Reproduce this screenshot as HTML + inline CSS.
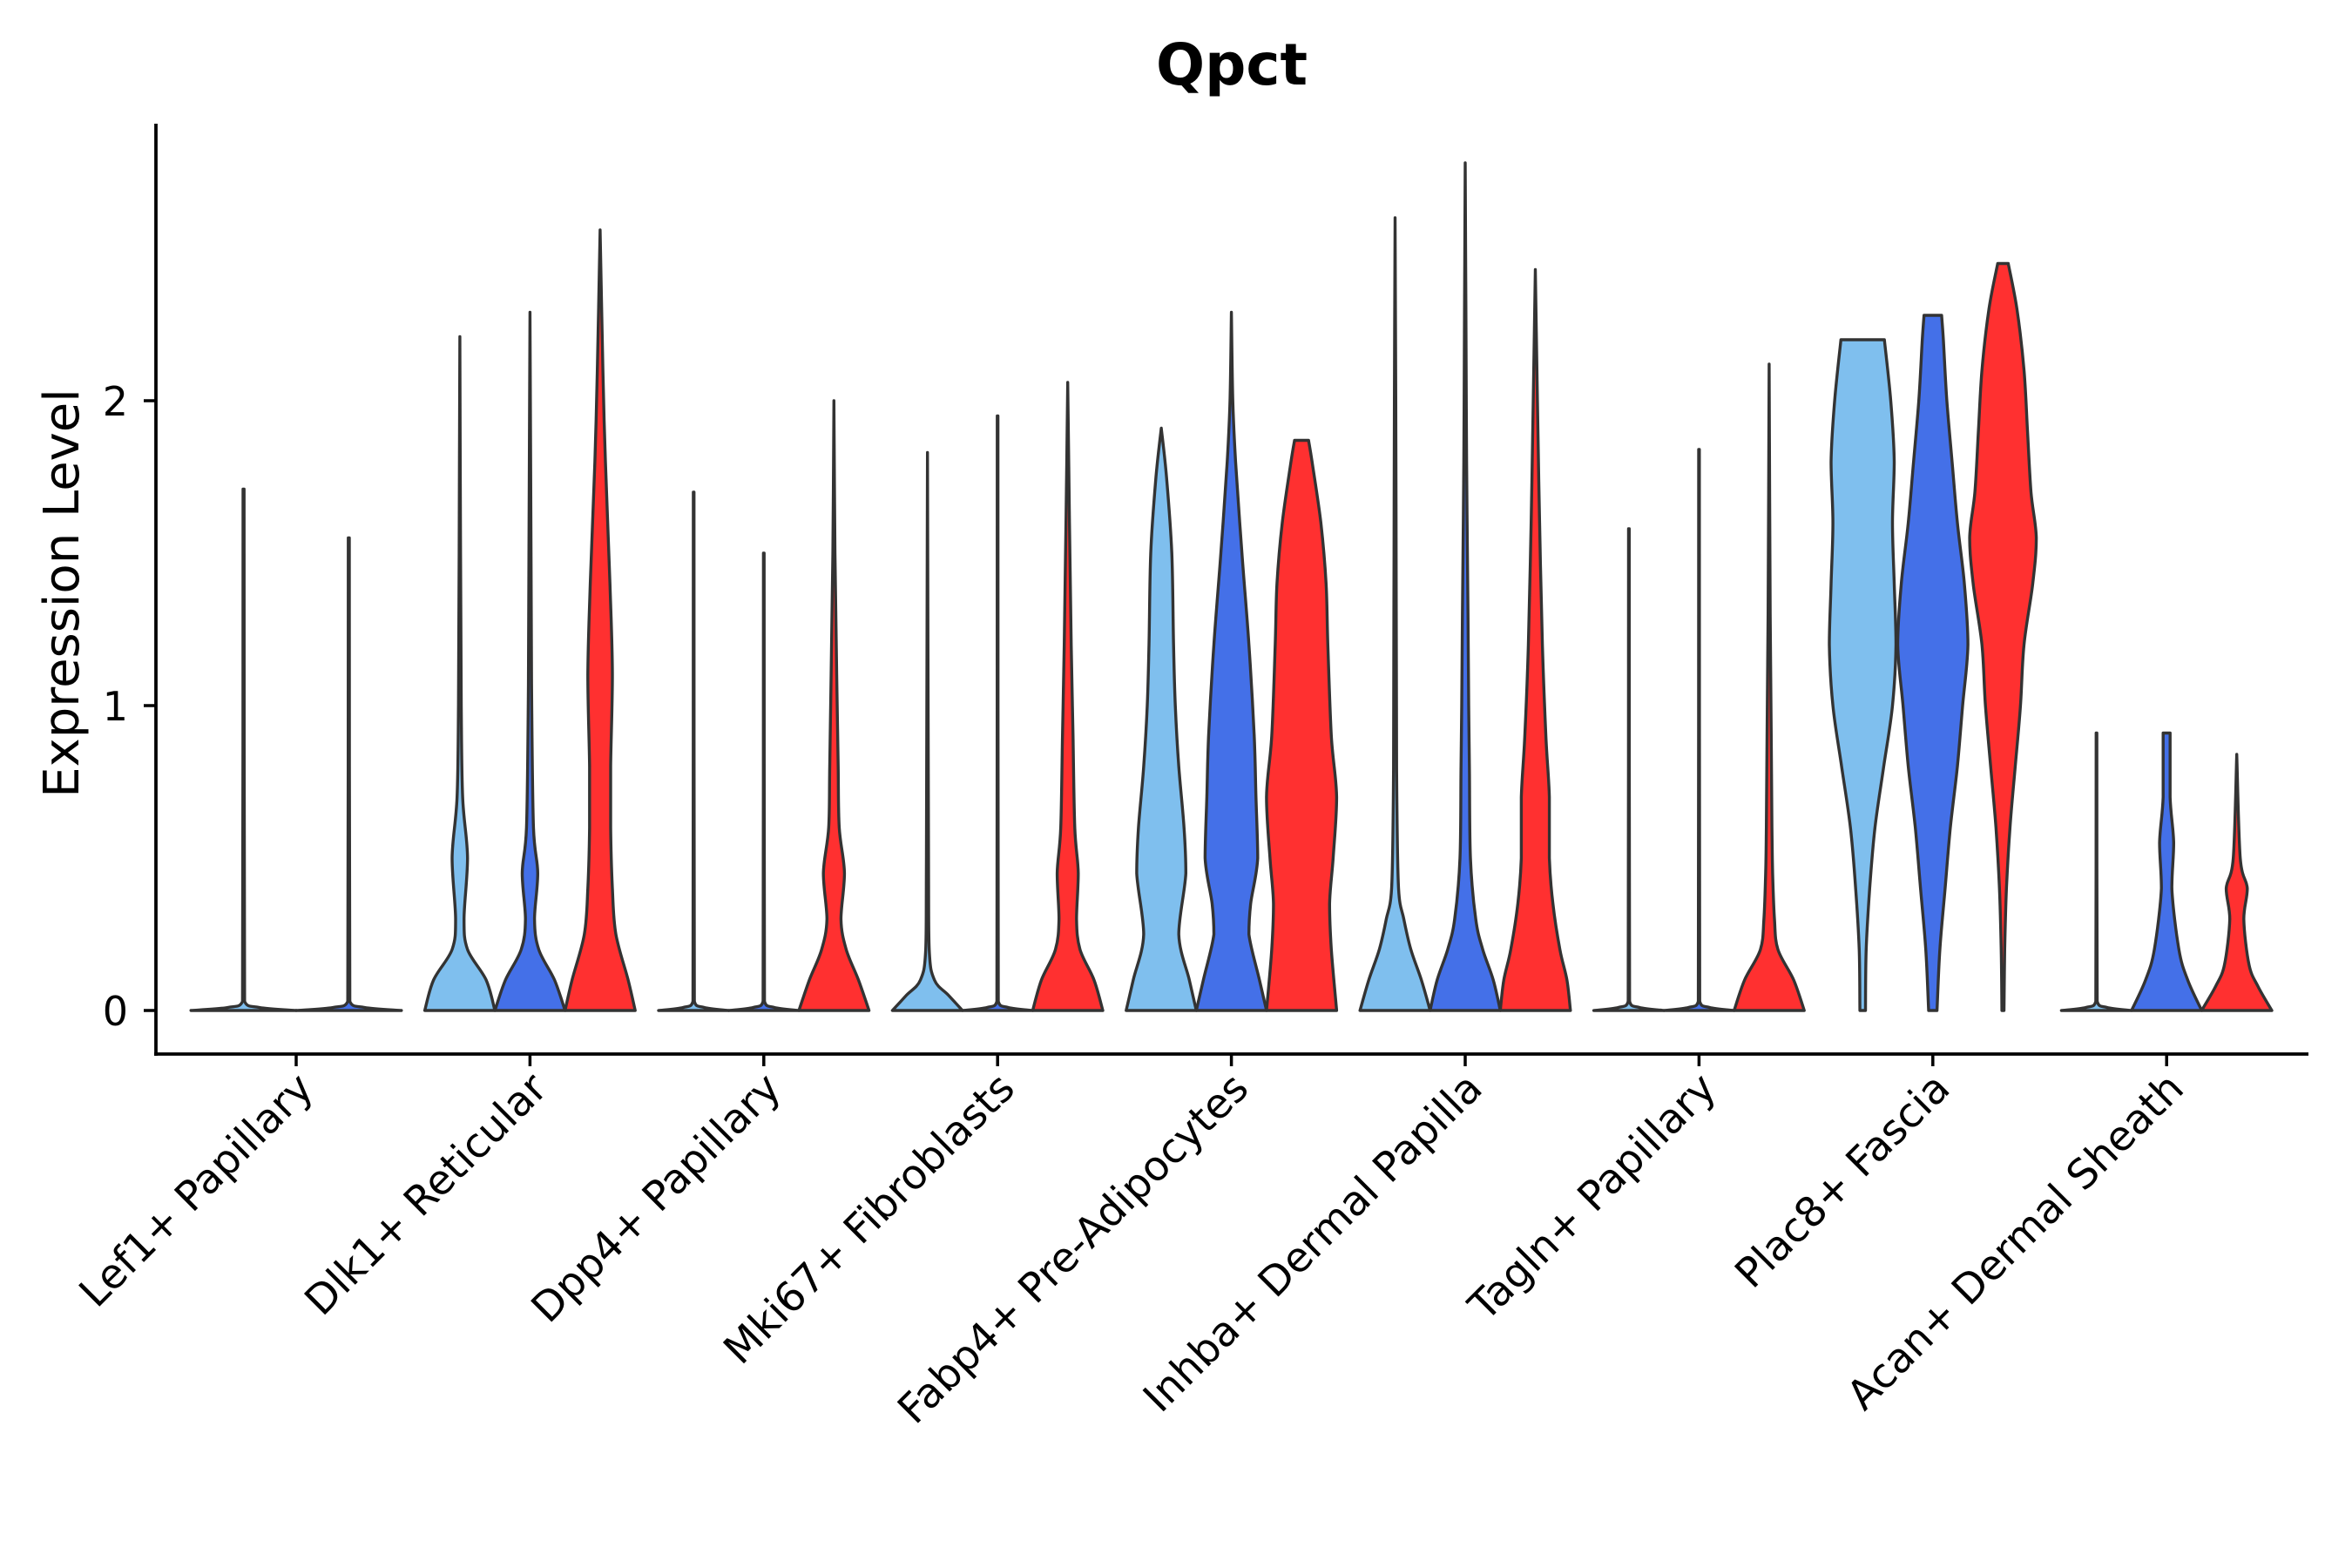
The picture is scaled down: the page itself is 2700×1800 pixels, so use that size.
<!DOCTYPE html>
<html><head><meta charset="utf-8"><style>
html,body{margin:0;padding:0;background:#fff;}
svg{display:block;font-family:"DejaVu Sans","Liberation Sans",sans-serif;}
</style></head><body>
<svg id="chart" width="2700" height="1800" viewBox="0 0 2700 1800" xmlns="http://www.w3.org/2000/svg">
<rect width="2700" height="1800" fill="#fff"/>
<text x="1414" y="97" text-anchor="middle" font-size="66" font-weight="bold" fill="#000">Qpct</text>
<text transform="translate(90,681) rotate(-90)" text-anchor="middle" font-size="56" fill="#000">Expression Level</text>
<g id="violins"></g>
<g id="axes"></g>
</svg>
<script>
const categories = ["Lef1+ Papillary","Dlk1+ Reticular","Dpp4+ Papillary","Mki67+ Fibroblasts","Fabp4+ Pre-Adipocytes","Inhba+ Dermal Papilla","Tagln+ Papillary","Plac8+ Fascia","Acan+ Dermal Sheath"];
const yTicks = [0,1,2];
const seriesColors = ["#7fbfee","#4470e8","#ff3030"];
const flat = m => [[0,1],[0.01,0.3],[0.03,0.02],[m,0.01]];
const lef1 = [[0, flat(1.71)],[1, flat(1.55)]];
const dlk1 = [
 [0, [[0,1],[0.1,0.75],[0.2,0.22],[0.3,0.12],[0.5,0.22],[0.7,0.08],[1.0,0.04],[1.5,0.02],[2.21,0]]],
 [1, [[0,1],[0.1,0.7],[0.2,0.25],[0.3,0.13],[0.45,0.22],[0.6,0.1],[1.0,0.05],[1.5,0.03],[2.29,0]]],
 [2, [[0,1],[0.1,0.8],[0.25,0.45],[0.4,0.35],[0.6,0.3],[0.8,0.3],[1.1,0.35],[1.4,0.28],[1.8,0.15],[2.1,0.08],[2.56,0]]]];
const dpp4 = [[0, flat(1.70)],[1, flat(1.50)],
 [2, [[0,1],[0.1,0.7],[0.2,0.35],[0.3,0.2],[0.45,0.3],[0.6,0.15],[0.8,0.12],[1.1,0.08],[1.5,0.03],[2.0,0]]]];
const mki67 = [
 [0, [[0,1],[0.05,0.6],[0.1,0.2],[0.2,0.05],[0.5,0.03],[1.83,0]]],
 [1, flat(1.95)],
 [2, [[0,1],[0.1,0.75],[0.2,0.35],[0.3,0.25],[0.45,0.3],[0.6,0.2],[0.9,0.15],[1.2,0.1],[1.6,0.05],[2.06,0]]]];
const fabp4 = [
 [0, [[0,1],[0.1,0.8],[0.25,0.5],[0.45,0.7],[0.6,0.65],[0.8,0.5],[1.0,0.4],[1.2,0.35],[1.5,0.3],[1.75,0.15],[1.91,0]]],
 [1, [[0,1],[0.1,0.8],[0.25,0.5],[0.35,0.55],[0.5,0.75],[0.7,0.7],[0.9,0.65],[1.2,0.5],[1.5,0.3],[1.8,0.12],[2.0,0.04],[2.29,0]]],
 [2, [[0,1],[0.2,0.85],[0.35,0.8],[0.5,0.9],[0.7,1.0],[0.9,0.85],[1.2,0.75],[1.4,0.7],[1.6,0.55],[1.8,0.3],[1.87,0.2]]]];
const inhba = [
 [0, [[0,1],[0.1,0.75],[0.2,0.45],[0.3,0.25],[0.4,0.1],[0.7,0.05],[1.0,0.04],[1.5,0.03],[2.0,0.02],[2.6,0]]],
 [1, [[0,1],[0.1,0.8],[0.2,0.5],[0.3,0.3],[0.5,0.15],[0.8,0.12],[1.0,0.1],[1.3,0.08],[1.8,0.04],[2.3,0.02],[2.78,0]]],
 [2, [[0,1],[0.1,0.9],[0.2,0.7],[0.35,0.5],[0.5,0.4],[0.7,0.4],[0.9,0.3],[1.2,0.2],[1.6,0.12],[2.0,0.06],[2.43,0]]]];
const tagln = [[0, flat(1.58)],[1, flat(1.84)],
 [2, [[0,1],[0.1,0.7],[0.2,0.25],[0.3,0.15],[0.45,0.1],[0.6,0.08],[0.9,0.06],[1.3,0.03],[2.12,0]]]];
const plac8 = [
 [0, [[0,0.08],[0.2,0.1],[0.4,0.2],[0.6,0.35],[0.8,0.6],[1.0,0.85],[1.2,0.95],[1.4,0.9],[1.6,0.85],[1.8,0.9],[2.0,0.8],[2.2,0.62]]],
 [1, [[0,0.12],[0.2,0.2],[0.4,0.35],[0.6,0.5],[0.8,0.7],[1.0,0.85],[1.2,1.0],[1.4,0.9],[1.6,0.7],[1.8,0.55],[2.0,0.4],[2.2,0.3],[2.28,0.25]]],
 [2, [[0,0.03],[0.2,0.05],[0.4,0.1],[0.6,0.2],[0.8,0.35],[1.0,0.5],[1.2,0.6],[1.4,0.85],[1.55,0.95],[1.7,0.8],[1.9,0.7],[2.1,0.6],[2.3,0.4],[2.45,0.15]]]];
const acan = [[0, flat(0.91)],
 [1, [[0,1],[0.1,0.6],[0.2,0.35],[0.4,0.15],[0.55,0.2],[0.7,0.1],[0.91,0.1]]],
 [2, [[0,1],[0.08,0.6],[0.15,0.35],[0.3,0.2],[0.4,0.3],[0.5,0.1],[0.84,0]]]];
const violinData = [lef1,dlk1,dpp4,mki67,fabp4,inhba,tagln,plac8,acan];

const NS="http://www.w3.org/2000/svg";
const X0=179, X1=2650, Y0=1160, UNIT=350, AXY=1210, AXTOP=142;
const GSTEP=268.4, G0=340, DODGE=0.9*GSTEP;
const yScale = v => Y0 - v*UNIT;
const xCenter = i => G0 + i*GSTEP;
function mk(tag, attrs, parent){const e=document.createElementNS(NS,tag);for(const k in attrs)e.setAttribute(k,attrs[k]);parent.appendChild(e);return e;}
const clamp=(v,a,b)=>Math.max(Math.min(a,b),Math.min(Math.max(a,b),v));
function smooth(pts){
  let d="M"+pts[0][0].toFixed(1)+","+pts[0][1].toFixed(1);
  for(let i=0;i<pts.length-1;i++){
    const p0=pts[Math.max(0,i-1)],p1=pts[i],p2=pts[i+1],p3=pts[Math.min(pts.length-1,i+2)];
    let c1=[p1[0]+(p2[0]-p0[0])/6,p1[1]+(p2[1]-p0[1])/6];
    let c2=[p2[0]-(p3[0]-p1[0])/6,p2[1]-(p3[1]-p1[1])/6];
    c1=[clamp(c1[0],p1[0],p2[0]),clamp(c1[1],p1[1],p2[1])];
    c2=[clamp(c2[0],p1[0],p2[0]),clamp(c2[1],p1[1],p2[1])];
    d+="C"+c1[0].toFixed(1)+","+c1[1].toFixed(1)+" "+c2[0].toFixed(1)+","+c2[1].toFixed(1)+" "+p2[0].toFixed(1)+","+p2[1].toFixed(1);
  }
  return d;
}
const vg=document.getElementById("violins");
violinData.forEach((vs,gi)=>{
  const n=vs.length, slot=DODGE/n, half=slot/2;
  vs.forEach((v,vi)=>{
    const cx = xCenter(gi) - DODGE/2 + slot*(vi+0.5);
    const prof=v[1];
    const right=prof.map(p=>[cx+p[1]*half, yScale(p[0])]);
    const left=prof.slice().reverse().map(p=>[cx-p[1]*half, yScale(p[0])]);
    let d=smooth(right);
    d+="L"+left[0][0].toFixed(1)+","+left[0][1].toFixed(1);
    d+=smooth(left).replace(/^M[^C]*/,"");
    d+="Z";
    const p=mk("path",{d:d,fill:seriesColors[v[0]],stroke:"#333","stroke-width":3.4,"stroke-linejoin":"round"},vg);
    
    
  });
});
const ax=document.getElementById("axes");
mk("line",{x1:X0,y1:AXTOP,x2:X0,y2:AXY+2,stroke:"#000","stroke-width":3.8},ax);
mk("line",{x1:X0-2,y1:AXY,x2:X1,y2:AXY,stroke:"#000","stroke-width":3.8},ax);
yTicks.forEach(t=>{
  const y=yScale(t);
  mk("line",{x1:X0-14,y1:y,x2:X0,y2:y,stroke:"#000","stroke-width":3.5},ax);
  const tx=mk("text",{x:X0-32,y:y+17,"text-anchor":"end","font-size":46,fill:"#000"},ax);
  tx.textContent=t;
  
  
});
categories.forEach((c,i)=>{
  const x=xCenter(i);
  mk("line",{x1:x,y1:AXY,x2:x,y2:AXY+14,stroke:"#000","stroke-width":3.5},ax);
  const tx=mk("text",{transform:"translate("+(x+22)+","+(AXY+42)+") rotate(-45)","text-anchor":"end","font-size":47,fill:"#000"},ax);
  tx.textContent=c;
  
  
});
</script>
</body></html>
